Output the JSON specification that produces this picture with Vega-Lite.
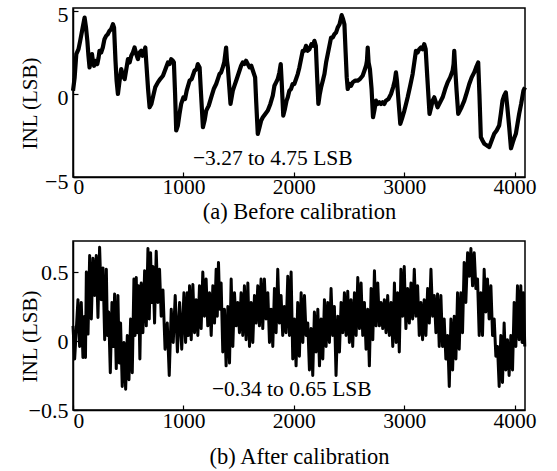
{
  "$schema": "https://vega.github.io/schema/vega-lite/v6.json",
  "padding": {"left": 18, "top": 3, "right": 5, "bottom": 0},
  "spacing": 16,
  "config": {
    "font": "Liberation Serif",
    "view": {"stroke": "black", "strokeWidth": 1.5},
    "axis": {
      "labelFont": "Liberation Serif", "labelFontSize": 22, "labelColor": "black",
      "titleFont": "Liberation Serif", "titleFontSize": 21, "titleFontWeight": "normal", "titleColor": "black",
      "domainColor": "black", "domainWidth": 1.5, "tickColor": "black", "tickWidth": 1.2, "grid": false
    },
    "axisX": {"titleFontSize": 22.5, "labelFontSize": 21.5}
  },
  "datasets": {
    "a": [
      {"x":0,"y":0.2},{"x":15,"y":1.0},{"x":30,"y":2.4},{"x":50,"y":2.7},{"x":65,"y":3.2},{"x":85,"y":3.9},{"x":105,"y":4.6},{"x":118,"y":4.0},{"x":130,"y":3.2},{"x":140,"y":2.3},{"x":150,"y":1.6},{"x":160,"y":2.0},{"x":172,"y":2.4},{"x":182,"y":1.9},{"x":190,"y":1.7},{"x":205,"y":2.0},{"x":220,"y":1.8},{"x":232,"y":2.2},{"x":240,"y":2.6},{"x":255,"y":2.5},{"x":270,"y":2.8},{"x":285,"y":3.3},{"x":300,"y":3.5},{"x":315,"y":3.6},{"x":330,"y":3.8},{"x":345,"y":3.9},{"x":362,"y":4.2},{"x":372,"y":4.0},{"x":385,"y":2.0},{"x":395,"y":0.8},{"x":407,"y":0.0},{"x":420,"y":0.7},{"x":437,"y":1.5},{"x":452,"y":1.1},{"x":468,"y":0.9},{"x":483,"y":1.5},{"x":498,"y":2.1},{"x":513,"y":1.9},{"x":528,"y":2.3},{"x":543,"y":2.5},{"x":558,"y":2.8},{"x":573,"y":2.4},{"x":588,"y":2.1},{"x":603,"y":2.5},{"x":618,"y":2.6},{"x":630,"y":2.3},{"x":642,"y":2.5},{"x":655,"y":2.8},{"x":665,"y":1.8},{"x":680,"y":0.3},{"x":694,"y":-0.8},{"x":710,"y":-0.6},{"x":724,"y":-0.2},{"x":745,"y":0.4},{"x":769,"y":0.7},{"x":790,"y":0.9},{"x":815,"y":1.1},{"x":838,"y":1.5},{"x":860,"y":1.9},{"x":875,"y":1.8},{"x":890,"y":2.1},{"x":905,"y":2.0},{"x":914,"y":1.9},{"x":925,"y":0.0},{"x":935,"y":-2.2},{"x":950,"y":-1.9},{"x":965,"y":-1.2},{"x":980,"y":-0.6},{"x":1000,"y":-0.2},{"x":1015,"y":-0.3},{"x":1030,"y":0.2},{"x":1056,"y":0.8},{"x":1075,"y":0.9},{"x":1101,"y":1.4},{"x":1120,"y":1.5},{"x":1131,"y":1.8},{"x":1147,"y":1.6},{"x":1160,"y":0.0},{"x":1177,"y":-2.0},{"x":1192,"y":-1.6},{"x":1207,"y":-1.0},{"x":1230,"y":-0.7},{"x":1252,"y":-0.2},{"x":1275,"y":0.3},{"x":1297,"y":0.6},{"x":1312,"y":0.9},{"x":1327,"y":1.2},{"x":1342,"y":1.3},{"x":1357,"y":1.6},{"x":1370,"y":1.9},{"x":1387,"y":2.8},{"x":1395,"y":2.0},{"x":1403,"y":1.6},{"x":1415,"y":0.5},{"x":1427,"y":-0.6},{"x":1440,"y":-0.1},{"x":1448,"y":0.2},{"x":1463,"y":0.5},{"x":1478,"y":0.8},{"x":1493,"y":1.1},{"x":1508,"y":1.4},{"x":1523,"y":1.7},{"x":1538,"y":1.9},{"x":1553,"y":1.8},{"x":1568,"y":2.0},{"x":1584,"y":1.8},{"x":1599,"y":1.6},{"x":1615,"y":1.7},{"x":1630,"y":1.4},{"x":1650,"y":1.0},{"x":1660,"y":-0.5},{"x":1674,"y":-2.4},{"x":1690,"y":-2.0},{"x":1705,"y":-1.6},{"x":1720,"y":-1.4},{"x":1742,"y":-1.2},{"x":1765,"y":-1.0},{"x":1788,"y":-0.6},{"x":1810,"y":-0.1},{"x":1825,"y":0.5},{"x":1840,"y":0.7},{"x":1855,"y":0.9},{"x":1870,"y":1.3},{"x":1882,"y":1.8},{"x":1890,"y":0.8},{"x":1905,"y":-1.3},{"x":1920,"y":-0.9},{"x":1935,"y":-0.4},{"x":1946,"y":-0.2},{"x":1960,"y":0.2},{"x":1975,"y":0.3},{"x":1990,"y":0.6},{"x":2005,"y":0.6},{"x":2021,"y":0.9},{"x":2036,"y":1.2},{"x":2051,"y":1.6},{"x":2066,"y":2.1},{"x":2081,"y":2.6},{"x":2096,"y":2.6},{"x":2111,"y":2.9},{"x":2126,"y":2.6},{"x":2142,"y":2.7},{"x":2160,"y":3.0},{"x":2175,"y":2.9},{"x":2187,"y":3.2},{"x":2200,"y":2.9},{"x":2212,"y":1.0},{"x":2223,"y":-0.6},{"x":2236,"y":0.0},{"x":2248,"y":0.4},{"x":2263,"y":0.8},{"x":2278,"y":1.2},{"x":2293,"y":1.9},{"x":2308,"y":2.4},{"x":2323,"y":2.9},{"x":2338,"y":3.4},{"x":2353,"y":3.4},{"x":2368,"y":3.6},{"x":2383,"y":3.7},{"x":2398,"y":4.0},{"x":2415,"y":4.2},{"x":2434,"y":4.75},{"x":2447,"y":4.5},{"x":2459,"y":4.2},{"x":2470,"y":2.5},{"x":2480,"y":1.0},{"x":2489,"y":0.3},{"x":2505,"y":0.6},{"x":2520,"y":0.5},{"x":2534,"y":0.7},{"x":2555,"y":0.8},{"x":2579,"y":0.8},{"x":2600,"y":0.9},{"x":2624,"y":1.1},{"x":2640,"y":1.4},{"x":2655,"y":1.7},{"x":2663,"y":2.0},{"x":2670,"y":2.8},{"x":2678,"y":1.9},{"x":2690,"y":1.5},{"x":2705,"y":0.3},{"x":2718,"y":-1.4},{"x":2730,"y":-1.0},{"x":2745,"y":-0.4},{"x":2760,"y":-0.6},{"x":2775,"y":-0.5},{"x":2790,"y":-0.6},{"x":2805,"y":-0.5},{"x":2820,"y":-0.6},{"x":2835,"y":-0.4},{"x":2858,"y":-0.3},{"x":2881,"y":0.0},{"x":2900,"y":0.4},{"x":2915,"y":0.8},{"x":2926,"y":1.3},{"x":2935,"y":0.8},{"x":2950,"y":-0.5},{"x":2965,"y":-1.8},{"x":2980,"y":-1.5},{"x":3002,"y":-1.0},{"x":3017,"y":-0.6},{"x":3032,"y":-0.2},{"x":3055,"y":0.5},{"x":3077,"y":1.2},{"x":3092,"y":1.9},{"x":3107,"y":2.6},{"x":3122,"y":2.5},{"x":3137,"y":2.7},{"x":3152,"y":2.8},{"x":3167,"y":2.7},{"x":3182,"y":3.0},{"x":3195,"y":2.7},{"x":3210,"y":1.0},{"x":3230,"y":-1.2},{"x":3245,"y":-0.8},{"x":3258,"y":-0.4},{"x":3273,"y":-0.2},{"x":3288,"y":-0.5},{"x":3303,"y":-0.8},{"x":3326,"y":-0.5},{"x":3349,"y":-0.2},{"x":3372,"y":0.3},{"x":3394,"y":0.7},{"x":3417,"y":1.0},{"x":3439,"y":1.4},{"x":3448,"y":1.8},{"x":3454,"y":2.6},{"x":3462,"y":1.6},{"x":3475,"y":0.2},{"x":3490,"y":-1.2},{"x":3505,"y":-1.0},{"x":3520,"y":-0.8},{"x":3545,"y":-0.4},{"x":3568,"y":0.1},{"x":3590,"y":0.6},{"x":3612,"y":1.0},{"x":3635,"y":1.3},{"x":3652,"y":1.6},{"x":3671,"y":1.9},{"x":3682,"y":0.0},{"x":3695,"y":-2.6},{"x":3710,"y":-2.8},{"x":3726,"y":-3.0},{"x":3750,"y":-3.1},{"x":3771,"y":-3.2},{"x":3793,"y":-2.8},{"x":3816,"y":-2.4},{"x":3838,"y":-2.2},{"x":3861,"y":-1.9},{"x":3876,"y":-1.2},{"x":3891,"y":-0.4},{"x":3906,"y":-0.1},{"x":3921,"y":0.1},{"x":3935,"y":-0.8},{"x":3952,"y":-2.0},{"x":3968,"y":-3.27},{"x":3985,"y":-2.9},{"x":4000,"y":-2.6},{"x":4012,"y":-2.4},{"x":4027,"y":-1.8},{"x":4042,"y":-1.2},{"x":4060,"y":-0.6},{"x":4081,"y":0.2},{"x":4095,"y":0.4}
    ],
    "b": [
      {"x":0,"y":0.11},{"x":15,"y":-0.13},{"x":45,"y":0.30},{"x":60,"y":-0.04},{"x":75,"y":0.28},{"x":90,"y":-0.12},{"x":106,"y":0.18},{"x":113,"y":-0.12},{"x":121,"y":0.50},{"x":136,"y":0.05},{"x":151,"y":0.62},{"x":166,"y":0.16},{"x":181,"y":0.60},{"x":196,"y":0.33},{"x":211,"y":0.62},{"x":226,"y":0.17},{"x":241,"y":0.68},{"x":256,"y":0.30},{"x":272,"y":0.53},{"x":287,"y":0.01},{"x":302,"y":0.52},{"x":312,"y":0.04},{"x":323,"y":0.21},{"x":338,"y":-0.23},{"x":353,"y":0.28},{"x":365,"y":-0.04},{"x":377,"y":0.34},{"x":392,"y":-0.20},{"x":407,"y":0.33},{"x":419,"y":-0.16},{"x":431,"y":0.13},{"x":446,"y":-0.33},{"x":462,"y":-0.01},{"x":477,"y":-0.35},{"x":492,"y":0.04},{"x":507,"y":-0.28},{"x":522,"y":0.16},{"x":537,"y":-0.23},{"x":552,"y":0.45},{"x":562,"y":0.04},{"x":573,"y":0.46},{"x":583,"y":0.06},{"x":594,"y":0.40},{"x":606,"y":-0.13},{"x":618,"y":0.42},{"x":633,"y":0.06},{"x":649,"y":0.51},{"x":664,"y":0.11},{"x":679,"y":0.67},{"x":691,"y":0.16},{"x":703,"y":0.64},{"x":713,"y":0.28},{"x":724,"y":0.54},{"x":739,"y":0.13},{"x":754,"y":0.65},{"x":769,"y":0.28},{"x":784,"y":0.52},{"x":799,"y":0.18},{"x":815,"y":0.37},{"x":834,"y":-0.06},{"x":854,"y":0.13},{"x":872,"y":-0.25},{"x":890,"y":0.23},{"x":908,"y":-0.01},{"x":926,"y":0.33},{"x":946,"y":-0.08},{"x":966,"y":0.28},{"x":985,"y":-0.06},{"x":1005,"y":0.35},{"x":1020,"y":-0.01},{"x":1035,"y":0.35},{"x":1045,"y":0.04},{"x":1056,"y":0.40},{"x":1071,"y":0.01},{"x":1086,"y":0.41},{"x":1101,"y":0.06},{"x":1116,"y":0.30},{"x":1131,"y":0.04},{"x":1146,"y":0.40},{"x":1161,"y":0.09},{"x":1176,"y":0.50},{"x":1191,"y":0.18},{"x":1206,"y":0.45},{"x":1221,"y":0.11},{"x":1237,"y":0.35},{"x":1252,"y":0.04},{"x":1267,"y":0.40},{"x":1282,"y":0.13},{"x":1297,"y":0.52},{"x":1307,"y":0.18},{"x":1318,"y":0.57},{"x":1330,"y":0.23},{"x":1342,"y":0.42},{"x":1357,"y":-0.08},{"x":1372,"y":0.23},{"x":1387,"y":-0.18},{"x":1403,"y":0.25},{"x":1418,"y":-0.16},{"x":1433,"y":0.45},{"x":1448,"y":-0.04},{"x":1463,"y":0.35},{"x":1478,"y":0.11},{"x":1493,"y":0.28},{"x":1508,"y":0.06},{"x":1523,"y":0.35},{"x":1538,"y":0.04},{"x":1553,"y":0.40},{"x":1568,"y":0.01},{"x":1584,"y":0.42},{"x":1599,"y":-0.04},{"x":1614,"y":0.28},{"x":1629,"y":-0.01},{"x":1644,"y":0.33},{"x":1659,"y":0.13},{"x":1674,"y":0.40},{"x":1689,"y":0.11},{"x":1704,"y":0.45},{"x":1719,"y":0.09},{"x":1734,"y":0.45},{"x":1749,"y":0.16},{"x":1765,"y":0.35},{"x":1780,"y":-0.01},{"x":1795,"y":0.23},{"x":1810,"y":-0.04},{"x":1825,"y":0.38},{"x":1840,"y":0.06},{"x":1855,"y":0.52},{"x":1870,"y":0.13},{"x":1885,"y":0.33},{"x":1900,"y":0.04},{"x":1915,"y":0.25},{"x":1930,"y":0.06},{"x":1946,"y":0.47},{"x":1961,"y":0.04},{"x":1976,"y":0.50},{"x":1991,"y":-0.13},{"x":2006,"y":0.16},{"x":2021,"y":-0.18},{"x":2036,"y":0.28},{"x":2051,"y":-0.11},{"x":2067,"y":0.35},{"x":2082,"y":-0.01},{"x":2097,"y":0.33},{"x":2112,"y":0.04},{"x":2127,"y":0.13},{"x":2142,"y":-0.21},{"x":2157,"y":0.09},{"x":2172,"y":-0.25},{"x":2187,"y":0.21},{"x":2202,"y":-0.08},{"x":2218,"y":0.23},{"x":2233,"y":-0.18},{"x":2248,"y":0.16},{"x":2263,"y":-0.13},{"x":2278,"y":0.30},{"x":2293,"y":-0.04},{"x":2308,"y":0.28},{"x":2323,"y":-0.01},{"x":2338,"y":0.38},{"x":2353,"y":0.04},{"x":2368,"y":0.25},{"x":2383,"y":-0.25},{"x":2399,"y":0.18},{"x":2414,"y":-0.08},{"x":2429,"y":0.28},{"x":2444,"y":0.06},{"x":2459,"y":0.35},{"x":2474,"y":0.04},{"x":2489,"y":0.36},{"x":2504,"y":-0.01},{"x":2519,"y":0.30},{"x":2534,"y":-0.04},{"x":2550,"y":0.35},{"x":2565,"y":0.04},{"x":2580,"y":0.46},{"x":2595,"y":0.09},{"x":2610,"y":0.42},{"x":2625,"y":0.04},{"x":2640,"y":0.28},{"x":2655,"y":-0.06},{"x":2670,"y":0.23},{"x":2685,"y":-0.18},{"x":2701,"y":0.38},{"x":2716,"y":0.01},{"x":2731,"y":0.51},{"x":2746,"y":0.11},{"x":2761,"y":0.42},{"x":2776,"y":0.11},{"x":2791,"y":0.28},{"x":2806,"y":0.09},{"x":2821,"y":0.30},{"x":2836,"y":0.06},{"x":2851,"y":0.33},{"x":2866,"y":0.04},{"x":2882,"y":0.28},{"x":2897,"y":-0.04},{"x":2912,"y":0.42},{"x":2927,"y":-0.01},{"x":2941,"y":0.35},{"x":2956,"y":-0.08},{"x":2971,"y":0.52},{"x":2986,"y":0.18},{"x":3001,"y":0.54},{"x":3016,"y":0.09},{"x":3032,"y":0.38},{"x":3047,"y":0.13},{"x":3062,"y":0.42},{"x":3077,"y":0.16},{"x":3092,"y":0.52},{"x":3107,"y":0.18},{"x":3122,"y":0.40},{"x":3137,"y":0.04},{"x":3152,"y":0.28},{"x":3167,"y":0.01},{"x":3182,"y":0.30},{"x":3197,"y":0.04},{"x":3213,"y":0.38},{"x":3228,"y":0.13},{"x":3243,"y":0.52},{"x":3258,"y":0.18},{"x":3273,"y":0.33},{"x":3288,"y":0.06},{"x":3303,"y":0.34},{"x":3318,"y":-0.04},{"x":3333,"y":0.33},{"x":3348,"y":-0.04},{"x":3363,"y":0.16},{"x":3378,"y":-0.13},{"x":3394,"y":0.04},{"x":3409,"y":-0.33},{"x":3424,"y":0.16},{"x":3439,"y":-0.21},{"x":3454,"y":0.18},{"x":3469,"y":-0.13},{"x":3484,"y":0.35},{"x":3499,"y":-0.06},{"x":3514,"y":0.35},{"x":3529,"y":0.06},{"x":3544,"y":0.57},{"x":3559,"y":0.28},{"x":3575,"y":0.64},{"x":3590,"y":0.47},{"x":3605,"y":0.67},{"x":3620,"y":0.40},{"x":3635,"y":0.64},{"x":3650,"y":0.38},{"x":3665,"y":0.45},{"x":3680,"y":0.04},{"x":3695,"y":0.35},{"x":3710,"y":0.04},{"x":3725,"y":0.52},{"x":3740,"y":0.21},{"x":3755,"y":0.45},{"x":3770,"y":0.16},{"x":3786,"y":0.40},{"x":3801,"y":0.04},{"x":3816,"y":0.16},{"x":3831,"y":-0.11},{"x":3846,"y":-0.04},{"x":3861,"y":-0.33},{"x":3876,"y":0.04},{"x":3891,"y":-0.30},{"x":3906,"y":0.13},{"x":3921,"y":-0.21},{"x":3936,"y":0.01},{"x":3951,"y":-0.25},{"x":3967,"y":0.04},{"x":3982,"y":-0.21},{"x":3997,"y":0.28},{"x":4012,"y":-0.04},{"x":4027,"y":0.40},{"x":4042,"y":0.01},{"x":4057,"y":0.40},{"x":4069,"y":-0.01},{"x":4081,"y":0.35},{"x":4093,"y":-0.04}
    ],
    "ta": [{"x":1810,"y":-3.9,"t":"−3.27 to 4.75 LSB"}],
    "tb": [{"x":1982,"y":-0.355,"t":"−0.34 to 0.65 LSB"}]
  },
  "vconcat": [
    {
      "width": 452, "height": 169,
      "layer": [
        {
          "data": {"name": "a"},
          "mark": {"type": "line", "color": "black", "strokeWidth": 4.2, "strokeJoin": "round"},
          "encoding": {
            "x": {"field": "x", "type": "quantitative", "scale": {"domain": [0, 4095], "nice": false},
                  "axis": {"title": "(a) Before calibration", "values": [0, 1000, 2000, 3000, 4000], "format": "d", "tickSize": -5, "labelPadding": 4, "titlePadding": 3}},
            "y": {"field": "y", "type": "quantitative", "scale": {"domain": [-5, 5.18], "nice": false},
                  "axis": {"title": "INL (LSB)", "values": [-5, 0, 5], "format": "d", "tickSize": -5, "labelPadding": 10, "labelOffset": 4, "titleX": -33, "titleY": 95}}
          }
        },
        {
          "data": {"name": "ta"},
          "mark": {"type": "text", "font": "Liberation Serif", "fontSize": 21.5, "color": "black", "baseline": "middle", "align": "center"},
          "encoding": {
            "x": {"field": "x", "type": "quantitative"},
            "y": {"field": "y", "type": "quantitative"},
            "text": {"field": "t"}
          }
        }
      ]
    },
    {
      "width": 452, "height": 169,
      "layer": [
        {
          "data": {"name": "b"},
          "mark": {"type": "line", "color": "black", "strokeWidth": 3, "strokeJoin": "round"},
          "encoding": {
            "x": {"field": "x", "type": "quantitative", "scale": {"domain": [0, 4095], "nice": false},
                  "axis": {"title": "(b) After calibration", "values": [0, 1000, 2000, 3000, 4000], "format": "d", "tickSize": -5, "labelPadding": 5, "titlePadding": 14}},
            "y": {"field": "y", "type": "quantitative", "scale": {"domain": [-0.5, 0.725], "nice": false},
                  "axis": {"title": "INL (LSB)", "values": [-0.5, 0, 0.5], "labelExpr": "datum.value === 0 ? '0' : (datum.value < 0 ? '−' : '') + format(abs(datum.value), '.1f')", "tickSize": -5, "labelPadding": 10, "titleX": -33, "titleY": 95}}
          }
        },
        {
          "data": {"name": "tb"},
          "mark": {"type": "text", "font": "Liberation Serif", "fontSize": 21.5, "color": "black", "baseline": "middle", "align": "center"},
          "encoding": {
            "x": {"field": "x", "type": "quantitative"},
            "y": {"field": "y", "type": "quantitative"},
            "text": {"field": "t"}
          }
        }
      ]
    }
  ]
}
